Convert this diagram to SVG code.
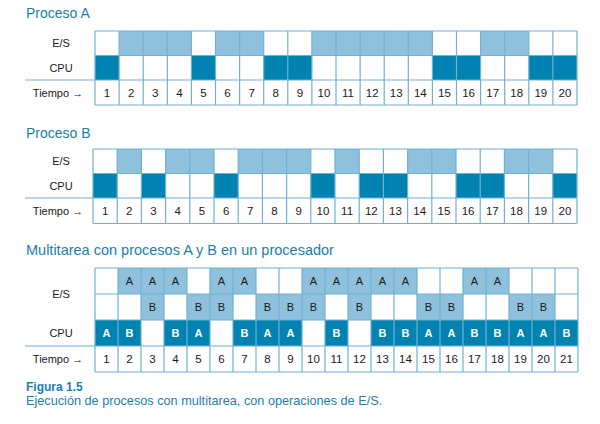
<svg xmlns="http://www.w3.org/2000/svg" width="600" height="424" viewBox="0 0 600 424">
<style>
.title{font-family:"Liberation Sans",Arial,sans-serif;font-size:14px;fill:#1a80ad}
.lbl{font-family:"Liberation Sans",Arial,sans-serif;font-size:11px;fill:#1a1a1a;text-anchor:middle}
.num{font-family:"Liberation Sans",Arial,sans-serif;font-size:11.5px;fill:#1a1a1a;text-anchor:middle}
.ltr{font-family:"Liberation Sans",Arial,sans-serif;font-size:11px;fill:#1a1a1a;text-anchor:middle}
.ltrw{font-family:"Liberation Sans",Arial,sans-serif;font-size:11px;fill:#ffffff;text-anchor:middle;font-weight:bold}
.light{fill:#8fc1dc}
.dark{fill:#0083b1}
.grid{fill:none;stroke:#6fb1d5;stroke-width:1.2}
.cap1{font-family:"Liberation Sans",Arial,sans-serif;font-size:12px;font-weight:bold;fill:#1a80ad}
.cap2{font-family:"Liberation Sans",Arial,sans-serif;font-size:12.7px;fill:#1a80ad}
</style>
<rect width="600" height="424" fill="#ffffff"/>

<g id="procesoA">
<text class="title" x="26" y="18">Proceso A</text>
<text class="lbl" x="61" y="47">E/S</text>
<text class="lbl" x="61" y="72">CPU</text>
<text class="lbl" x="58" y="97">Tiempo →</text>
<rect class="light" x="119.1" y="31" width="72.3" height="24.5"/>
<rect class="light" x="215.5" y="31" width="48.2" height="24.5"/>
<rect class="light" x="311.9" y="31" width="120.5" height="24.5"/>
<rect class="light" x="480.6" y="31" width="48.2" height="24.5"/>
<rect class="dark" x="95" y="55.5" width="24.1" height="24.5"/>
<rect class="dark" x="191.4" y="55.5" width="24.1" height="24.5"/>
<rect class="dark" x="263.7" y="55.5" width="48.2" height="24.5"/>
<rect class="dark" x="432.4" y="55.5" width="48.2" height="24.5"/>
<rect class="dark" x="528.8" y="55.5" width="48.2" height="24.5"/>
<path class="grid" d="M95 31H577M95 55.5H577M25 80H577M95 105H577M95 31V105M119.1 31V105M143.2 31V105M167.3 31V105M191.4 31V105M215.5 31V105M239.6 31V105M263.7 31V105M287.8 31V105M311.9 31V105M336 31V105M360.1 31V105M384.2 31V105M408.3 31V105M432.4 31V105M456.5 31V105M480.6 31V105M504.7 31V105M528.8 31V105M552.9 31V105M577 31V105"/>
<text class="num" x="107.05" y="97">1</text><text class="num" x="131.15" y="97">2</text><text class="num" x="155.25" y="97">3</text><text class="num" x="179.35" y="97">4</text><text class="num" x="203.45" y="97">5</text><text class="num" x="227.55" y="97">6</text><text class="num" x="251.65" y="97">7</text><text class="num" x="275.75" y="97">8</text><text class="num" x="299.85" y="97">9</text><text class="num" x="323.95" y="97">10</text><text class="num" x="348.05" y="97">11</text><text class="num" x="372.15" y="97">12</text><text class="num" x="396.25" y="97">13</text><text class="num" x="420.35" y="97">14</text><text class="num" x="444.45" y="97">15</text><text class="num" x="468.55" y="97">16</text><text class="num" x="492.65" y="97">17</text><text class="num" x="516.75" y="97">18</text><text class="num" x="540.85" y="97">19</text><text class="num" x="564.95" y="97">20</text>
</g>

<g id="procesoB">
<text class="title" x="26" y="138">Proceso B</text>
<text class="lbl" x="61" y="165">E/S</text>
<text class="lbl" x="61" y="190">CPU</text>
<text class="lbl" x="58" y="215">Tiempo →</text>
<rect class="light" x="117.2" y="149" width="24.2" height="24.5"/>
<rect class="light" x="165.6" y="149" width="48.4" height="24.5"/>
<rect class="light" x="238.2" y="149" width="72.6" height="24.5"/>
<rect class="light" x="335" y="149" width="24.2" height="24.5"/>
<rect class="light" x="407.6" y="149" width="48.4" height="24.5"/>
<rect class="light" x="504.4" y="149" width="48.4" height="24.5"/>
<rect class="dark" x="93" y="173.5" width="24.2" height="24.5"/>
<rect class="dark" x="141.4" y="173.5" width="24.2" height="24.5"/>
<rect class="dark" x="214" y="173.5" width="24.2" height="24.5"/>
<rect class="dark" x="310.8" y="173.5" width="24.2" height="24.5"/>
<rect class="dark" x="359.2" y="173.5" width="48.4" height="24.5"/>
<rect class="dark" x="456" y="173.5" width="48.4" height="24.5"/>
<rect class="dark" x="552.8" y="173.5" width="24.2" height="24.5"/>
<path class="grid" d="M93 149H577M93 173.5H577M25 198H577M93 223.5H577M93 149V223.5M117.2 149V223.5M141.4 149V223.5M165.6 149V223.5M189.8 149V223.5M214 149V223.5M238.2 149V223.5M262.4 149V223.5M286.6 149V223.5M310.8 149V223.5M335 149V223.5M359.2 149V223.5M383.4 149V223.5M407.6 149V223.5M431.8 149V223.5M456 149V223.5M480.2 149V223.5M504.4 149V223.5M528.6 149V223.5M552.8 149V223.5M577 149V223.5"/>
<text class="num" x="105.1" y="215">1</text><text class="num" x="129.3" y="215">2</text><text class="num" x="153.5" y="215">3</text><text class="num" x="177.7" y="215">4</text><text class="num" x="201.9" y="215">5</text><text class="num" x="226.1" y="215">6</text><text class="num" x="250.3" y="215">7</text><text class="num" x="274.5" y="215">8</text><text class="num" x="298.7" y="215">9</text><text class="num" x="322.9" y="215">10</text><text class="num" x="347.1" y="215">11</text><text class="num" x="371.3" y="215">12</text><text class="num" x="395.5" y="215">13</text><text class="num" x="419.7" y="215">14</text><text class="num" x="443.9" y="215">15</text><text class="num" x="468.1" y="215">16</text><text class="num" x="492.3" y="215">17</text><text class="num" x="516.5" y="215">18</text><text class="num" x="540.7" y="215">19</text><text class="num" x="564.9" y="215">20</text>
</g>

<g id="multitarea">
<text class="title" x="26" y="255" style="font-size:14.5px">Multitarea con procesos A y B en un procesador</text>
<text class="lbl" x="61" y="298">E/S</text>
<text class="lbl" x="61" y="337">CPU</text>
<text class="lbl" x="58" y="363">Tiempo →</text>
<rect class="light" x="118" y="268" width="69" height="26"/>
<rect class="light" x="210" y="268" width="46" height="26"/>
<rect class="light" x="302" y="268" width="115" height="26"/>
<rect class="light" x="463" y="268" width="46" height="26"/>
<rect class="light" x="141" y="294" width="23" height="26"/>
<rect class="light" x="187" y="294" width="46" height="26"/>
<rect class="light" x="256" y="294" width="69" height="26"/>
<rect class="light" x="348" y="294" width="23" height="26"/>
<rect class="light" x="417" y="294" width="46" height="26"/>
<rect class="light" x="509" y="294" width="46" height="26"/>
<rect class="dark" x="95" y="320" width="46" height="26"/>
<rect class="dark" x="164" y="320" width="46" height="26"/>
<rect class="dark" x="233" y="320" width="69" height="26"/>
<rect class="dark" x="325" y="320" width="23" height="26"/>
<rect class="dark" x="371" y="320" width="207" height="26"/>
<path class="grid" d="M95 268H578M95 294H578M95 320H578M25 346H578M95 372H578M95 268V372M118 268V372M141 268V372M164 268V372M187 268V372M210 268V372M233 268V372M256 268V372M279 268V372M302 268V372M325 268V372M348 268V372M371 268V372M394 268V372M417 268V372M440 268V372M463 268V372M486 268V372M509 268V372M532 268V372M555 268V372M578 268V372"/>
<text class="ltr" x="129.5" y="285">A</text><text class="ltr" x="152.5" y="285">A</text><text class="ltr" x="175.5" y="285">A</text><text class="ltr" x="221.5" y="285">A</text><text class="ltr" x="244.5" y="285">A</text><text class="ltr" x="313.5" y="285">A</text><text class="ltr" x="336.5" y="285">A</text><text class="ltr" x="359.5" y="285">A</text><text class="ltr" x="382.5" y="285">A</text><text class="ltr" x="405.5" y="285">A</text><text class="ltr" x="474.5" y="285">A</text><text class="ltr" x="497.5" y="285">A</text>
<text class="ltr" x="152.5" y="311">B</text><text class="ltr" x="198.5" y="311">B</text><text class="ltr" x="221.5" y="311">B</text><text class="ltr" x="267.5" y="311">B</text><text class="ltr" x="290.5" y="311">B</text><text class="ltr" x="313.5" y="311">B</text><text class="ltr" x="359.5" y="311">B</text><text class="ltr" x="428.5" y="311">B</text><text class="ltr" x="451.5" y="311">B</text><text class="ltr" x="520.5" y="311">B</text><text class="ltr" x="543.5" y="311">B</text>
<text class="ltrw" x="106.5" y="337">A</text><text class="ltrw" x="129.5" y="337">B</text><text class="ltrw" x="175.5" y="337">B</text><text class="ltrw" x="198.5" y="337">A</text><text class="ltrw" x="244.5" y="337">B</text><text class="ltrw" x="267.5" y="337">A</text><text class="ltrw" x="290.5" y="337">A</text><text class="ltrw" x="336.5" y="337">B</text><text class="ltrw" x="382.5" y="337">B</text><text class="ltrw" x="405.5" y="337">B</text><text class="ltrw" x="428.5" y="337">A</text><text class="ltrw" x="451.5" y="337">A</text><text class="ltrw" x="474.5" y="337">B</text><text class="ltrw" x="497.5" y="337">B</text><text class="ltrw" x="520.5" y="337">A</text><text class="ltrw" x="543.5" y="337">A</text><text class="ltrw" x="566.5" y="337">B</text>
<text class="num" x="106.5" y="363">1</text><text class="num" x="129.5" y="363">2</text><text class="num" x="152.5" y="363">3</text><text class="num" x="175.5" y="363">4</text><text class="num" x="198.5" y="363">5</text><text class="num" x="221.5" y="363">6</text><text class="num" x="244.5" y="363">7</text><text class="num" x="267.5" y="363">8</text><text class="num" x="290.5" y="363">9</text><text class="num" x="313.5" y="363">10</text><text class="num" x="336.5" y="363">11</text><text class="num" x="359.5" y="363">12</text><text class="num" x="382.5" y="363">13</text><text class="num" x="405.5" y="363">14</text><text class="num" x="428.5" y="363">15</text><text class="num" x="451.5" y="363">16</text><text class="num" x="474.5" y="363">17</text><text class="num" x="497.5" y="363">18</text><text class="num" x="520.5" y="363">19</text><text class="num" x="543.5" y="363">20</text><text class="num" x="566.5" y="363">21</text>
</g>

<g id="caption">
<text class="cap1" x="26" y="391">Figura 1.5</text>
<text class="cap2" x="26" y="405">Ejecución de procesos con multitarea, con operaciones de E/S.</text>
</g>
</svg>
